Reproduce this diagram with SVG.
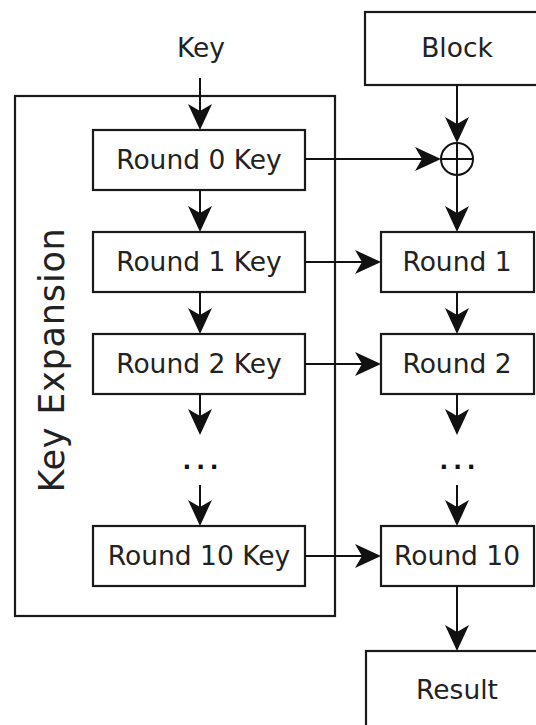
<svg xmlns="http://www.w3.org/2000/svg" width="536" height="725" viewBox="0 0 536 725">
  <defs>
    <style>
      .box { fill: #ffffff; stroke: #1a1a1a; stroke-width: 2.2; }
      .lbl { font-family: "DejaVu Sans", Verdana, sans-serif; font-size: 26.5px; fill: #222222; text-anchor: middle; }
      .dots { font-family: "DejaVu Sans", Verdana, sans-serif; font-size: 23px; font-weight: bold; fill: #111111; text-anchor: middle; letter-spacing: 5px; }
      .wire { fill: none; stroke: #111111; stroke-width: 2; }
      .arrow { fill: none; stroke: #111111; stroke-width: 2; marker-end: url(#head); }
    </style>
    <!-- notched filled arrowhead, tip sits 2px past the line end -->
    <marker id="head" markerUnits="userSpaceOnUse" markerWidth="28" markerHeight="26" viewBox="0 0 28 26" refX="24" refY="12" orient="auto">
      <path d="M0,0 L26,12 L0,24 L7,12 Z" fill="#111111"/>
    </marker>
  </defs>

  <rect width="536" height="725" fill="#ffffff"/>

  <!-- Key expansion container -->
  <g id="key-expansion">
    <rect class="box" x="15" y="96" width="320" height="520"/>
    <text class="lbl" transform="translate(64,360) rotate(-90)" style="font-size:35px;letter-spacing:0.8px">Key Expansion</text>
  </g>

  <g id="key-input">
    <text class="lbl" x="201" y="57">Key</text>
  </g>

  <g id="block">
    <rect class="box" x="365" y="12" width="184" height="73"/>
    <text class="lbl" x="457" y="57">Block</text>
  </g>

  <g id="xor">
    <circle cx="457" cy="159" r="16" fill="#ffffff" stroke="#111111" stroke-width="2"/>
    <line class="wire" x1="441" y1="159" x2="473" y2="159"/>
    <line class="wire" x1="457" y1="143" x2="457" y2="175"/>
  </g>

  <g id="round0-key">
    <rect class="box" x="93" y="130" width="212" height="60"/>
    <text class="lbl" x="199" y="169">Round 0 Key</text>
  </g>
  <g id="round1-key">
    <rect class="box" x="93" y="232" width="212" height="60"/>
    <text class="lbl" x="199" y="271">Round 1 Key</text>
  </g>
  <g id="round2-key">
    <rect class="box" x="93" y="334" width="212" height="60"/>
    <text class="lbl" x="199" y="373">Round 2 Key</text>
  </g>
  <g id="key-dots">
    <text class="dots" x="203" y="469">...</text>
  </g>
  <g id="round10-key">
    <rect class="box" x="93" y="526" width="212" height="60"/>
    <text class="lbl" x="199" y="565">Round 10 Key</text>
  </g>

  <g id="round1">
    <rect class="box" x="381" y="232" width="153" height="60"/>
    <text class="lbl" x="457" y="271">Round 1</text>
  </g>
  <g id="round2">
    <rect class="box" x="381" y="334" width="153" height="60"/>
    <text class="lbl" x="457" y="373">Round 2</text>
  </g>
  <g id="round-dots">
    <text class="dots" x="460" y="469">...</text>
  </g>
  <g id="round10">
    <rect class="box" x="381" y="526" width="153" height="60"/>
    <text class="lbl" x="457" y="565">Round 10</text>
  </g>

  <g id="result">
    <rect class="box" x="366" y="651" width="184" height="90"/>
    <text class="lbl" x="457" y="699">Result</text>
  </g>

  <!-- connectors -->
  <g id="connectors">
    <line class="arrow" x1="200" y1="78" x2="200" y2="128"/>
    <line class="arrow" x1="200" y1="190" x2="200" y2="230"/>
    <line class="arrow" x1="200" y1="292" x2="200" y2="332"/>
    <line class="arrow" x1="200" y1="394" x2="200" y2="433"/>
    <line class="arrow" x1="200" y1="485" x2="200" y2="524"/>

    <line class="arrow" x1="457" y1="85" x2="457" y2="141"/>
    <line class="arrow" x1="305" y1="159" x2="439" y2="159"/>
    <line class="arrow" x1="457" y1="175" x2="457" y2="230"/>
    <line class="arrow" x1="457" y1="292" x2="457" y2="332"/>
    <line class="arrow" x1="457" y1="394" x2="457" y2="433"/>
    <line class="arrow" x1="457" y1="485" x2="457" y2="524"/>
    <line class="arrow" x1="457" y1="586" x2="457" y2="649"/>

    <line class="arrow" x1="305" y1="262" x2="379" y2="262"/>
    <line class="arrow" x1="305" y1="364" x2="379" y2="364"/>
    <line class="arrow" x1="305" y1="556" x2="379" y2="556"/>
  </g>
</svg>
